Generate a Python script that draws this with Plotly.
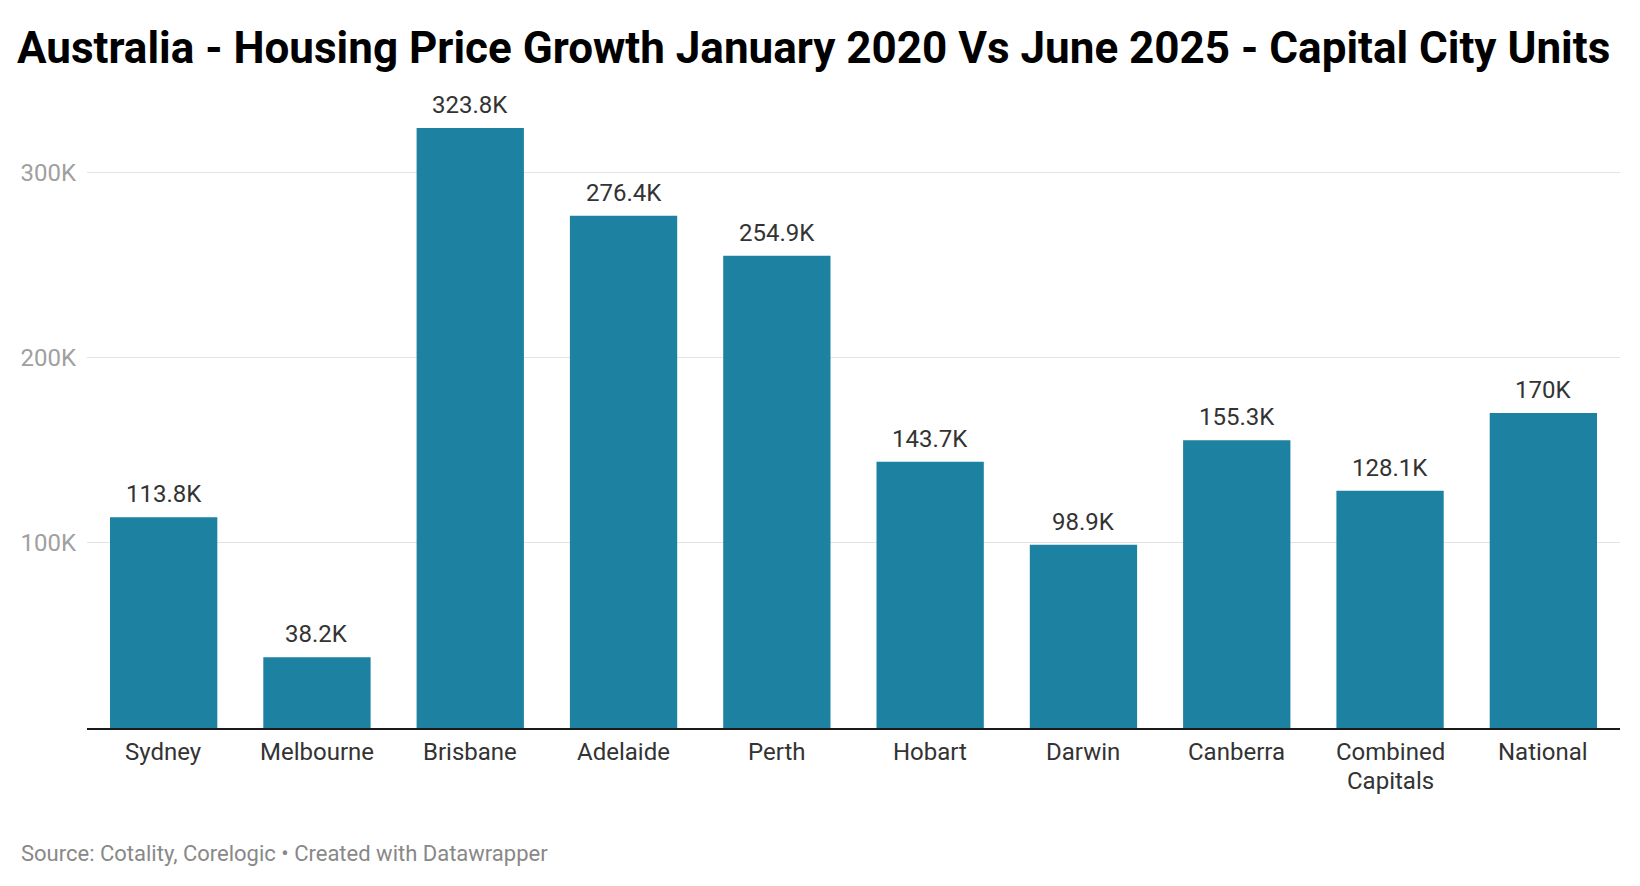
import plotly.graph_objects as go

cities = ["Sydney", "Melbourne", "Brisbane", "Adelaide", "Perth", "Hobart",
          "Darwin", "Canberra", "Combined<br>Capitals", "National"]
growth = [113800, 38200, 323800, 276400, 254900, 143700, 98900, 155300, 128100, 170000]
y_ticks = [100000, 200000, 300000]
y_tick_labels = ["100K", "200K", "300K"]

labels = [f"{v/1000:g}K" for v in growth]

W, H = 1640, 886
L, R, T, B = 87, 20, 98, 158

fig = go.Figure(go.Bar(
    x=cities, y=growth,
    marker=dict(color="#1d81a2", line=dict(width=0)),
    cliponaxis=False, hoverinfo="skip",
))

value_annotations = [
    dict(x=c, y=v, text=t, xref="x", yref="y", showarrow=False,
         xanchor="center", yanchor="bottom", yshift=7,
         font=dict(family="Roboto", size=24, color="#333333"))
    for c, v, t in zip(cities, growth, labels)
]

category_annotations = []
for c in cities:
    for i, line in enumerate(c.split("<br>")):
        category_annotations.append(dict(
            x=c, y=0, text=line, xref="x", yref="y", showarrow=False,
            xanchor="center", yanchor="middle", yshift=-(24 + i * 28.5),
            font=dict(family="Roboto", size=24, color="#333333")))

fig.update_layout(
    width=W, height=H,
    margin=dict(l=L, r=R, t=T, b=B),
    paper_bgcolor="white", plot_bgcolor="white",
    bargap=0.30, showlegend=False,
    font=dict(family="Roboto", color="#333333"),
    title=dict(
        text="<b>Australia - Housing Price Growth January 2020 Vs June 2025 - Capital City Units</b>",
        font=dict(family="Roboto", size=44, color="#000000"),
        x=17 / W, xanchor="left", xref="container",
        y=1 - 48 / H, yanchor="middle", yref="container",
    ),
    xaxis=dict(
        showline=True, linecolor="#1a1a1a", linewidth=2,
        ticks="", showgrid=False, showticklabels=False,
    ),
    yaxis=dict(
        range=[0, 340000], tickvals=y_ticks, ticktext=y_tick_labels,
        showgrid=True, gridcolor="#e3e3e3", gridwidth=1,
        zeroline=False, showline=False, ticks="",
        tickfont=dict(family="Roboto", size=24, color="#a0a0a0"),
        ticklabelstandoff=10,
    ),
    annotations=value_annotations + category_annotations + [dict(
        text="Source: Cotality, Corelogic • Created with Datawrapper",
        xref="paper", yref="paper",
        x=(19 - L) / (W - L - R), y=-(853 - (H - B)) / (H - T - B),
        xanchor="left", yanchor="middle", showarrow=False,
        font=dict(family="Roboto", size=22, color="#888888"),
    )],
)

fig.write_html("out.html", config={"displayModeBar": False},
               post_script="document.body.style.margin='0';")
